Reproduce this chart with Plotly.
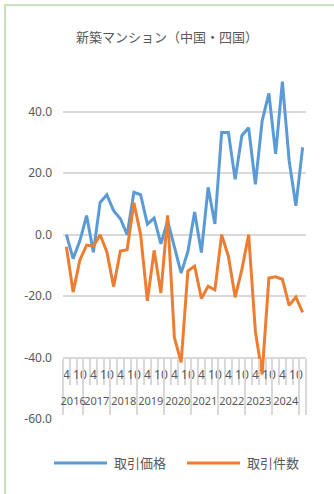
import plotly.graph_objects as go

# Quarterly periods: 2016-4 ... 2025-1
years = [2016, 2016, 2016,
         2017, 2017, 2017, 2017,
         2018, 2018, 2018, 2018,
         2019, 2019, 2019, 2019,
         2020, 2020, 2020, 2020,
         2021, 2021, 2021, 2021,
         2022, 2022, 2022, 2022,
         2023, 2023, 2023, 2023,
         2024, 2024, 2024, 2024,
         2025]
months = [4, 7, 10,
          1, 4, 7, 10,
          1, 4, 7, 10,
          1, 4, 7, 10,
          1, 4, 7, 10,
          1, 4, 7, 10,
          1, 4, 7, 10,
          1, 4, 7, 10,
          1, 4, 7, 10,
          1]

# 取引価格 (year-on-year, %)
price = [0.0, -7.8, -2.0, 6.2, -5.7, 10.5, 13.0, 7.8, 5.2, 0.0, 13.8, 13.0,
         3.4, 5.4, -3.0, 4.5, -4.0, -12.5, -5.5, 7.4, -5.8, 15.4, 3.5, 33.3,
         33.3, 18.0, 32.3, 34.8, 16.4, 37.0, 46.0, 26.3, 49.8, 24.1, 9.4, 28.4]
# 取引件数 (year-on-year, %)
count = [-3.9, -18.7, -8.2, -3.4, -3.8, 0.0, -5.6, -16.9, -5.3, -4.9, 10.4, 0.0,
         -21.5, -5.1, -19.0, 6.3, -33.5, -41.6, -11.8, -10.2, -20.8, -16.8, -18.0, 0.0,
         -7.0, -20.4, -11.3, 0.0, -31.5, -45.5, -14.1, -13.7, -14.5, -23.0, -20.3, -25.3]

year_labels = ["2016", "2017", "2018", "2019", "2020", "2021", "2022", "2023", "2024"]
y_ticks = [-60, -40, -20, 0, 20, 40]

series_names = ["取引価格", "取引件数"]
series_colors = ["#5B9BD5", "#ED7D31"]

TEXT = "#595959"
GRID = "#D9D9D9"
FONT = "Noto Sans, Noto Sans CJK JP, sans-serif"

W, H = 334, 494
ML, MR, MT, MB = 63, 28, 78, 75
Y_MIN, Y_MAX = -60, 51
AXIS_CROSS = -40

n = len(months)
xs = list(range(n))

# category-axis label positions
month_tickvals = [i for i in xs if i % 2 == 0]
month_ticktext = [str(months[i]) for i in month_tickvals]
cat_bounds = [i - 0.5 for i in xs] + [n - 0.5]

year_centers, year_bounds = [], [-0.5]
for lab in year_labels:
    idx = [i for i, y in enumerate(years) if str(y) == lab]
    year_centers.append((idx[0] + idx[-1]) / 2)
    year_bounds.append(idx[-1] + 0.5)
year_bounds.append(n - 0.5)

fig = go.Figure()
for name, vals, col in zip(series_names, [price, count], series_colors):
    fig.add_trace(go.Scatter(x=xs, y=vals, mode="lines", name=name,
                             line=dict(color=col, width=3), showlegend=False))

pos = (AXIS_CROSS - Y_MIN) / (Y_MAX - Y_MIN)

fig.update_layout(
    width=W, height=H,
    margin=dict(l=ML, r=MR, t=MT, b=MB),
    paper_bgcolor="white", plot_bgcolor="white",
    font=dict(family=FONT, size=12, color=TEXT),
    title=dict(text="新築マンション（中国・四国）", x=0.5, xref="container",
               y=1 - 37 / H, yref="container", yanchor="middle", xanchor="center",
               font=dict(size=13, color=TEXT, family="Noto Sans CJK JP")),
    xaxis=dict(range=[-0.5, n - 0.5], anchor="free", position=pos,
               showgrid=False, zeroline=False, showline=False,
               tickmode="array", tickvals=month_tickvals, ticktext=month_ticktext,
               ticks="", ticklabelstandoff=8, tickangle=0,
               tickfont=dict(size=12, color=TEXT),
               minor=dict(tickmode="array", tickvals=cat_bounds, ticks="outside",
                          ticklen=26, tickwidth=1.5, tickcolor=GRID, showgrid=False)),
    xaxis2=dict(range=[-0.5, n - 0.5], anchor="free", position=pos, overlaying="x",
                side="bottom", showgrid=False, zeroline=False, showline=False,
                tickmode="array", tickvals=year_centers, ticktext=year_labels,
                ticks="", ticklabelstandoff=35, tickangle=0,
                tickfont=dict(size=11, color=TEXT),
                minor=dict(tickmode="array", tickvals=year_bounds, ticks="outside",
                           ticklen=56, tickwidth=1.5, tickcolor=GRID, showgrid=False)),
    yaxis=dict(range=[Y_MIN, Y_MAX], tickmode="array", tickvals=y_ticks,
               ticktext=[f"{v:.1f}" for v in y_ticks],
               showgrid=True, gridcolor=GRID, gridwidth=1.5, zeroline=False,
               showline=False, ticks="", ticklabelstandoff=10,
               tickfont=dict(size=12, color=TEXT)),
)

# invisible anchor so the year axis is laid out
fig.add_trace(go.Scatter(x=[None], y=[None], xaxis="x2", yaxis="y",
                         showlegend=False, hoverinfo="skip"))

plot_w = W - ML - MR
plot_h = H - MT - MB


def px_x(px):
    return (px - ML) / plot_w


def px_y(py):
    return (H - MB - py) / plot_h


# chart border
fig.add_shape(type="rect", xref="paper", yref="paper",
              x0=px_x(5), x1=px_x(345), y0=px_y(510), y1=px_y(5),
              line=dict(color="#C9E3B9", width=2), layer="below")

# legend
leg_y = px_y(463)
for name, col, (lx0, lx1, tx) in zip(series_names, series_colors,
                                     [(54, 107, 112), (187, 240, 245)]):
    fig.add_shape(type="line", xref="paper", yref="paper",
                  x0=px_x(lx0), x1=px_x(lx1), y0=leg_y, y1=leg_y,
                  line=dict(color=col, width=3))
    fig.add_annotation(xref="paper", yref="paper", x=px_x(tx), y=leg_y,
                       text=name, showarrow=False, xanchor="left", yanchor="middle",
                       font=dict(size=13, color=TEXT, family="Noto Sans CJK JP"))

fig.write_html("out.html")
